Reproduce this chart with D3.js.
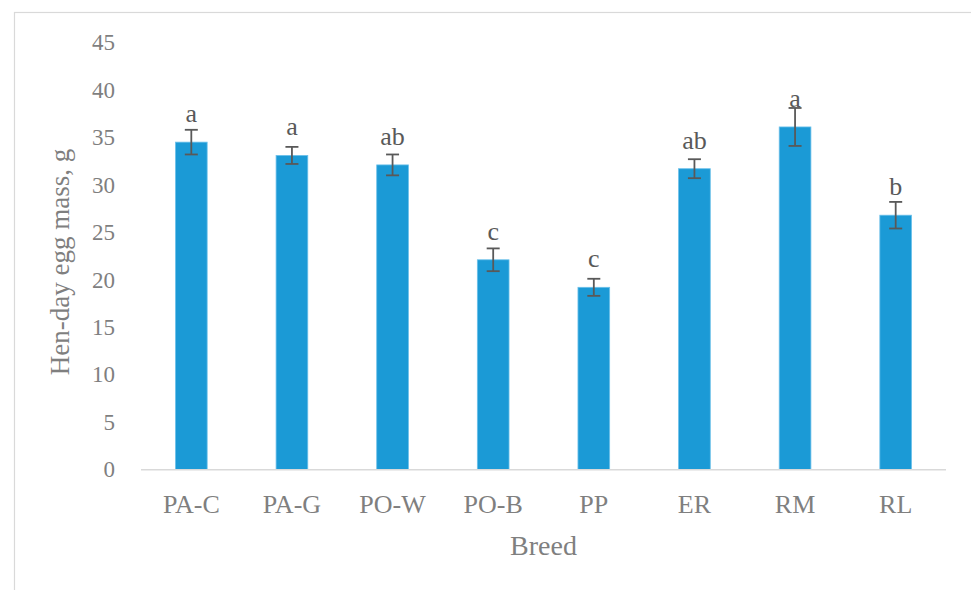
<!DOCTYPE html>
<html>
<head>
<meta charset="utf-8">
<script src="https://cdn.jsdelivr.net/npm/d3@7"></script>
<style>
  html, body { margin: 0; padding: 0; background: #fff; }
  svg { display: block; }
</style>
</head>
<body>
<svg id="chart" width="971" height="590"></svg>
<script>
// Hen-day egg mass by breed (mean ± SE) with significance letters
const breeds = ["PA-C", "PA-G", "PO-W", "PO-B", "PP", "ER", "RM", "RL"];
const eggMass = [34.5, 33.1, 32.1, 22.1, 19.2, 31.7, 36.1, 26.8];
const stdErr = [1.3, 0.9, 1.1, 1.2, 0.9, 1.0, 2.0, 1.4];
const letters = ["a", "a", "ab", "c", "c", "ab", "a", "b"];
const yTicks = [0, 5, 10, 15, 20, 25, 30, 35, 40, 45];

const svg = d3.select("#chart");
const font = "'Palatino Linotype', 'Book Antiqua', Palatino, 'Liberation Serif', serif";

const plot = { left: 141, right: 946, top: 42.5, bottom: 469.5 };

// outer chart frame
svg.append("rect")
  .attr("x", 14.5).attr("y", 12.5)
  .attr("width", 970).attr("height", 600)
  .attr("fill", "none").attr("stroke", "#d9d9d9").attr("stroke-width", 1.2);

const x = d3.scaleBand()
  .domain(breeds)
  .range([plot.left, plot.right])
  .paddingInner(0.685)
  .paddingOuter(0.3425);

const y = d3.scaleLinear()
  .domain([0, 45])
  .range([plot.bottom, plot.top]);

// y axis labels only (no line, no ticks)
const yAxis = svg.append("g")
  .attr("transform", `translate(${plot.left - 26},0)`)
  .call(d3.axisLeft(y).tickValues(yTicks).tickSize(0).tickPadding(0));
yAxis.select(".domain").remove();
yAxis.selectAll("text")
  .attr("font-family", font).attr("font-size", 23)
  .attr("fill", "#7f7f7f");

// bars
svg.append("g").selectAll("rect")
  .data(breeds)
  .join("rect")
  .attr("x", d => x(d))
  .attr("width", x.bandwidth())
  .attr("y", (d, i) => y(eggMass[i]))
  .attr("height", (d, i) => y(0) - y(eggMass[i]))
  .attr("fill", "#1b9ad6")
  .attr("stroke", "#6cc0ea").attr("stroke-width", 0.8);

// x axis baseline
svg.append("line")
  .attr("x1", plot.left).attr("x2", plot.right)
  .attr("y1", y(0) + 0.3).attr("y2", y(0) + 0.3)
  .attr("stroke", "#d9d9d9").attr("stroke-width", 1.6);

// category labels
const xAxis = svg.append("g")
  .attr("transform", `translate(0,${y(0)})`)
  .call(d3.axisBottom(x).tickSize(0).tickPadding(25));
xAxis.select(".domain").remove();
xAxis.selectAll("text")
  .attr("font-family", font).attr("font-size", 26)
  .attr("fill", "#7f7f7f");

// error bars
const eb = svg.append("g").attr("stroke", "#595959").attr("stroke-width", 1.8);
breeds.forEach((b, i) => {
  const cx = x(b) + x.bandwidth() / 2;
  const hi = y(eggMass[i] + stdErr[i]);
  const lo = y(eggMass[i] - stdErr[i]);
  eb.append("line").attr("x1", cx).attr("x2", cx).attr("y1", hi).attr("y2", lo);
  eb.append("line").attr("x1", cx - 6.5).attr("x2", cx + 6.5).attr("y1", hi).attr("y2", hi);
  eb.append("line").attr("x1", cx - 6.5).attr("x2", cx + 6.5).attr("y1", lo).attr("y2", lo);
});

// significance letters above bars
svg.append("g").selectAll("text")
  .data(breeds)
  .join("text")
  .attr("x", d => x(d) + x.bandwidth() / 2)
  .attr("y", (d, i) => y(eggMass[i]) - 20)
  .attr("text-anchor", "middle")
  .attr("font-family", font).attr("font-size", 26)
  .attr("fill", "#595959")
  .text((d, i) => letters[i]);

// axis titles
svg.append("text")
  .attr("x", (plot.left + plot.right) / 2).attr("y", 555)
  .attr("text-anchor", "middle")
  .attr("font-family", font).attr("font-size", 28)
  .attr("fill", "#7f7f7f")
  .text("Breed");

svg.append("text")
  .attr("transform", `translate(69,262) rotate(-90)`)
  .attr("text-anchor", "middle")
  .attr("font-family", font).attr("font-size", 27)
  .attr("fill", "#7f7f7f")
  .text("Hen-day egg mass, g");
</script>
</body>
</html>
